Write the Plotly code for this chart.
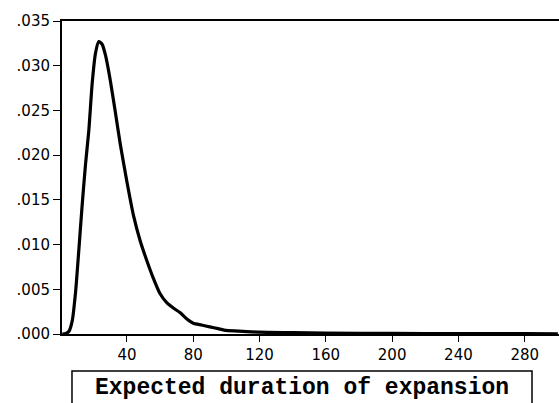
import plotly.graph_objects as go

duration = [1, 3, 5, 7, 9, 11, 13, 15, 17, 19, 21, 23, 25, 27, 30, 33, 36, 40, 44, 48,
            52, 56, 60, 64, 68, 72, 76, 80, 85, 90, 95, 100, 110, 120, 140, 160, 200,
            240, 280, 300]
density = [0.0000, 0.00005, 0.0003, 0.0015, 0.0047, 0.0095, 0.0145, 0.0190, 0.0228,
           0.0280, 0.0314, 0.0327, 0.0324, 0.0312, 0.0283, 0.0248, 0.0212, 0.0170,
           0.0132, 0.0104, 0.0082, 0.0062, 0.0045, 0.0035, 0.0029, 0.0024, 0.0017,
           0.0012, 0.0010, 0.0008, 0.0006, 0.0004, 0.0003, 0.0002, 0.00015, 0.0001,
           0.00006, 0.00005, 0.00004, 0.00003]

y_tickvals = [0.000, 0.005, 0.010, 0.015, 0.020, 0.025, 0.030, 0.035]
y_ticktext = [".000", ".005", ".010", ".015", ".020", ".025", ".030", ".035"]
x_tickvals = [40, 80, 120, 160, 200, 240, 280]
title_text = "Expected duration of expansion"

fig = go.Figure()
fig.add_trace(go.Scatter(x=duration, y=density, mode="lines",
                         line=dict(color="black", width=3.2, shape="spline", smoothing=0.6),
                         showlegend=False))

fig.update_layout(
    width=559, height=403,
    margin=dict(l=62, r=0, t=21, b=69),
    paper_bgcolor="white", plot_bgcolor="white",
    font=dict(family="DejaVu Sans", size=15, color="black"),
    xaxis=dict(range=[0.8, 300.7], tickvals=x_tickvals, showgrid=False, zeroline=False,
               showline=True, linecolor="black", linewidth=2, mirror=True,
               ticks="outside", ticklen=6, tickwidth=1, tickcolor="black"),
    yaxis=dict(range=[0, 0.035], tickvals=y_tickvals, ticktext=y_ticktext,
               showgrid=False, zeroline=False, showline=True, linecolor="black",
               linewidth=2, mirror=False, ticks="outside", ticklen=7, tickwidth=1,
               tickcolor="black"),
    shapes=[dict(type="rect", xref="paper", yref="paper", x0=0.0201, x1=0.9457,
                 y0=-0.2300, y1=-0.1182, line=dict(color="black", width=1.5),
                 fillcolor="white")],
    annotations=[dict(text="<b>" + title_text + "</b>", xref="paper", yref="paper",
                      x=0.483, y=-0.172, showarrow=False, xanchor="center",
                      yanchor="middle",
                      font=dict(family="Courier New, Liberation Mono, monospace",
                                size=23, color="black"))],
)

fig.write_html("out.html")
